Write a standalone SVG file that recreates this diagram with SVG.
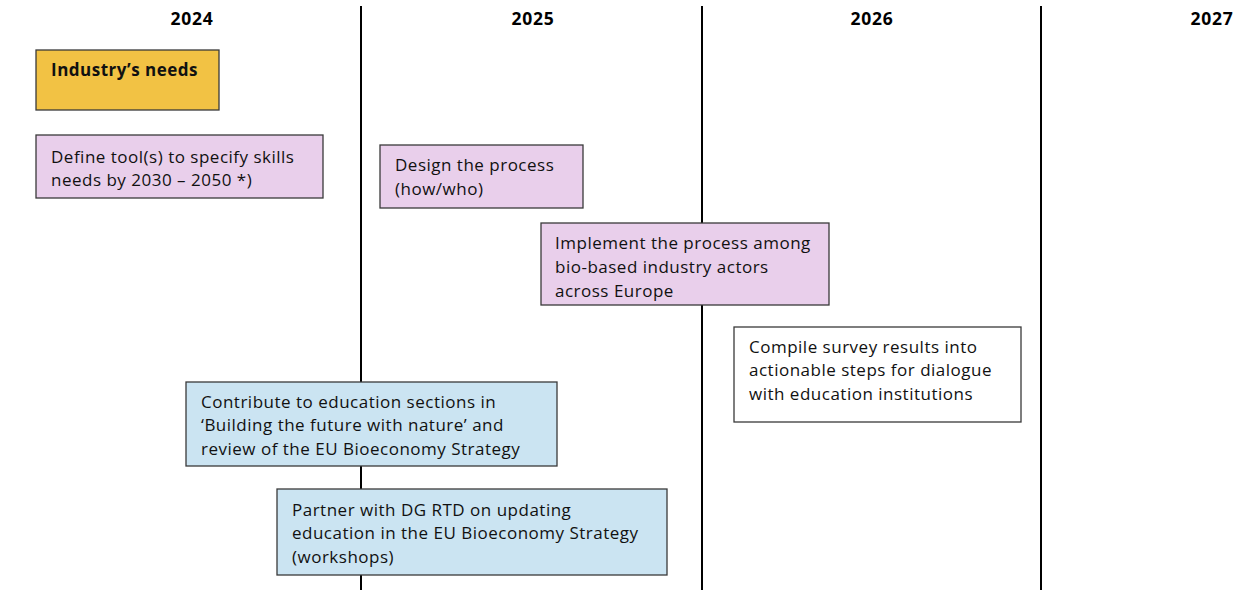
<svg xmlns="http://www.w3.org/2000/svg" width="1253" height="590" viewBox="0 0 1253 590">
<style>
.yr{font-family:"Open Sans","Liberation Sans",Arial,sans-serif;font-weight:bold;font-size:17.5px;letter-spacing:0.8px;fill:#000;text-anchor:middle}
.t{font-family:"Open Sans","Liberation Sans",Arial,sans-serif;font-size:17px;letter-spacing:0.5px;fill:#111}
.b{stroke:#3a3a3a;stroke-width:1.3}
.div{stroke:#000;stroke-width:2}
</style>
<rect width="1253" height="590" fill="#fff"/>
<g id="dividers">
<line class="div" x1="361" y1="6" x2="361" y2="590"/>
<line class="div" x1="702" y1="6" x2="702" y2="590"/>
<line class="div" x1="1041" y1="6" x2="1041" y2="590"/>
</g>
<g id="years">
<text class="yr" x="192" y="25">2024</text>
<text class="yr" x="533" y="25">2025</text>
<text class="yr" x="872" y="25">2026</text>
<text class="yr" x="1212" y="25">2027</text>
</g>
<g id="industry-needs">
<rect class="b" x="36" y="50" width="183" height="60" fill="#F2C244"/>
<text class="t" x="51" y="76" font-weight="bold">Industry’s needs</text>
</g>
<g id="define-tools">
<rect class="b" x="36" y="135" width="287" height="63" fill="#E9CFEB"/>
<text class="t" x="51" y="163">Define tool(s) to specify skills</text>
<text class="t" x="51" y="186">needs by 2030 – 2050 *)</text>
</g>
<g id="design-process">
<rect class="b" x="380" y="145" width="203" height="63" fill="#E9CFEB"/>
<text class="t" x="395" y="171">Design the process</text>
<text class="t" x="395" y="195">(how/who)</text>
</g>
<g id="implement-process">
<rect class="b" x="541" y="223" width="288" height="82" fill="#E9CFEB"/>
<text class="t" x="555" y="249">Implement the process among</text>
<text class="t" x="555" y="273">bio-based industry actors</text>
<text class="t" x="555" y="297">across Europe</text>
</g>
<g id="compile-survey">
<rect class="b" x="734" y="327" width="287" height="95" fill="#fff"/>
<text class="t" x="749" y="353">Compile survey results into</text>
<text class="t" x="749" y="376">actionable steps for dialogue</text>
<text class="t" x="749" y="400">with education institutions</text>
</g>
<g id="contribute-education">
<rect class="b" x="186" y="382" width="371" height="84" fill="#CBE4F2"/>
<text class="t" x="201" y="408">Contribute to education sections in</text>
<text class="t" x="201" y="431">‘Building the future with nature’ and</text>
<text class="t" x="201" y="455">review of the EU Bioeconomy Strategy</text>
</g>
<g id="partner-dgrtd">
<rect class="b" x="277" y="489" width="390" height="86" fill="#CBE4F2"/>
<text class="t" x="292" y="516">Partner with DG RTD on updating</text>
<text class="t" x="292" y="539">education in the EU Bioeconomy Strategy</text>
<text class="t" x="292" y="563">(workshops)</text>
</g>
</svg>
